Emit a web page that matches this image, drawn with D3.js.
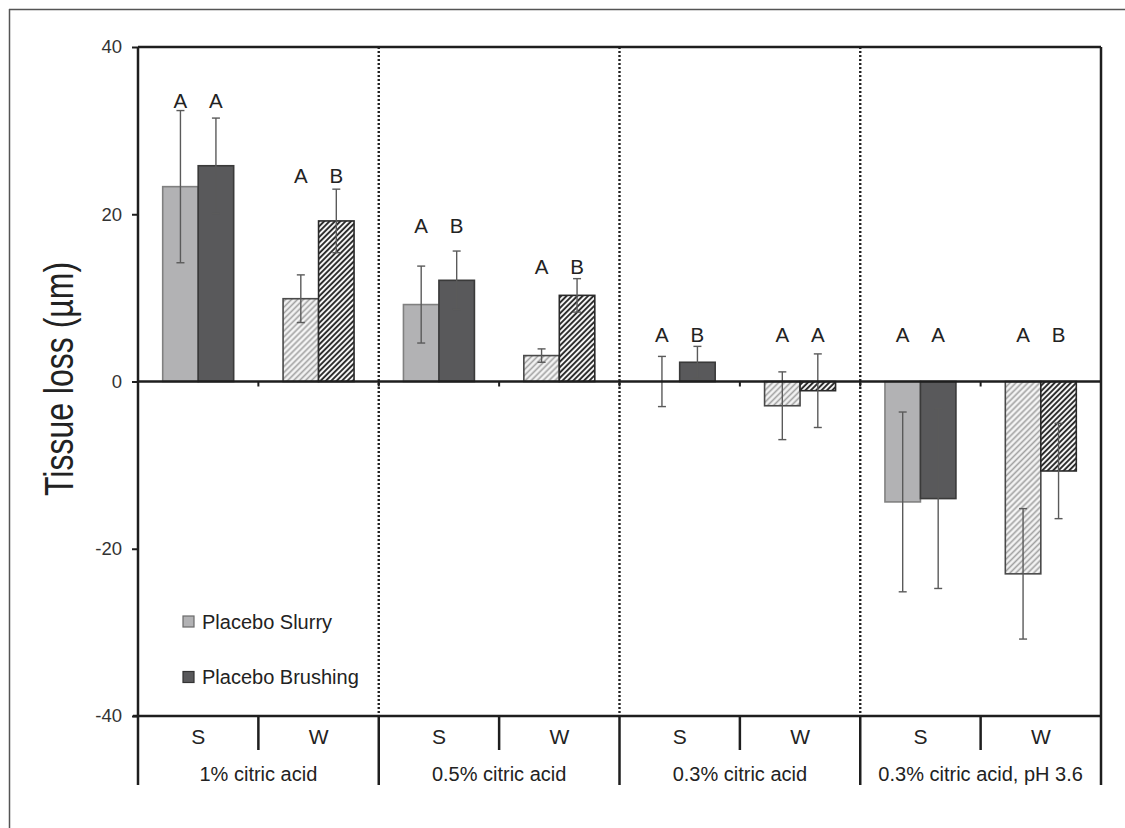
<!DOCTYPE html>
<html>
<head>
<meta charset="utf-8">
<script src="https://cdn.jsdelivr.net/npm/d3@7"></script>
<style>
  html, body { margin: 0; padding: 0; background: #fff; }
  svg { display: block; font-family: "Liberation Sans", Arial, sans-serif; }
</style>
</head>
<body>
<svg id="chart" width="1125" height="828"></svg>
<script>
// ---- data ----
const groups = ["1% citric acid", "0.5% citric acid", "0.3% citric acid", "0.3% citric acid, pH 3.6"];
const subgroups = ["S", "W"];
const series = ["Placebo Slurry", "Placebo Brushing"];
// order: g1 S, g1 W, g2 S, g2 W, g3 S, g3 W, g4 S, g4 W
const slurryMean = [23.3, 9.9, 9.2, 3.1, 0.0, -2.9, -14.4, -23.0];
const slurryErr  = [9.1, 2.85, 4.6, 0.8, 3.0, 4.05, 10.75, 7.8];
const brushMean  = [25.8, 19.2, 12.1, 10.3, 2.3, -1.1, -14.0, -10.7];
const brushErr   = [5.7, 3.8, 3.5, 2.0, 1.9, 4.4, 10.75, 5.7];
const slurryLetters = ["A", "A", "A", "A", "A", "A", "A", "A"];
const brushLetters  = ["A", "B", "B", "B", "B", "A", "A", "B"];
const letterLevel = [33.6, 24.6, 18.6, 13.7, 5.6, 5.6, 5.6, 5.6];
const yTicks = [-40, -20, 0, 20, 40];
const yTitle = "Tissue loss (µm)";

// ---- layout ----
const svg = d3.select("#chart");
const L = 138, R = 1101, T = 47, B = 716;
const cells = [];
groups.forEach((g, gi) => subgroups.forEach((s, si) => cells.push({ key: g + "|" + s, g, s, gi, si })));
const idx = cells.map((c, i) => i);

const x = d3.scaleBand().domain(cells.map(c => c.key)).range([L, R]);
const xg = d3.scaleBand().domain(groups).range([L, R]);
const x1 = d3.scaleBand().domain(series).range([0, x.bandwidth()]).paddingInner(0).paddingOuter(0.696);
const y = d3.scaleLinear().domain([-40, 40]).range([B, T]);

// patterns
const defs = svg.append("defs");
function hatch(id, bg, stroke, period, sw) {
  const p = defs.append("pattern").attr("id", id).attr("patternUnits", "userSpaceOnUse")
    .attr("width", period).attr("height", period).attr("patternTransform", "rotate(45)");
  p.append("rect").attr("width", period).attr("height", period).attr("fill", bg);
  p.append("line").attr("x1", period / 2).attr("x2", period / 2).attr("y1", 0).attr("y2", period)
    .attr("stroke", stroke).attr("stroke-width", sw);
}
hatch("hatchLight", "#f4f4f4", "#a2a2a2", 4.2, 1.6);
hatch("hatchDark", "#ffffff", "#2e2e2e", 3.8, 2.0);

// outer frame (top & left)
svg.append("line").attr("x1", 9).attr("x2", 1125).attr("y1", 9.5).attr("y2", 9.5).attr("stroke", "#555").attr("stroke-width", 1.5);
svg.append("line").attr("x1", 9.5).attr("x2", 9.5).attr("y1", 9).attr("y2", 828).attr("stroke", "#555").attr("stroke-width", 1.5);

// dotted group separators inside plot
svg.append("g").selectAll("line").data(groups.slice(1)).join("line")
  .attr("x1", d => xg(d)).attr("x2", d => xg(d)).attr("y1", T).attr("y2", B)
  .attr("stroke", "#222").attr("stroke-width", 2.4).attr("stroke-dasharray", "2,2");

// bars
const bars = [];
idx.forEach(i => {
  const c = cells[i];
  bars.push({ i, c, ser: series[0], v: slurryMean[i], e: slurryErr[i], letter: slurryLetters[i] });
  bars.push({ i, c, ser: series[1], v: brushMean[i], e: brushErr[i], letter: brushLetters[i] });
});
function fillOf(d) {
  if (d.c.s === "S") return d.ser === series[0] ? "#b2b2b4" : "#59595b";
  return d.ser === series[0] ? "url(#hatchLight)" : "url(#hatchDark)";
}
function strokeOf(d) {
  if (d.c.s === "S") return d.ser === series[0] ? "#808080" : "#3a3a3a";
  return d.ser === series[0] ? "#4a4a4a" : "#2a2a2a";
}
const gb = svg.append("g");
gb.selectAll("rect").data(bars.filter(d => d.v !== 0)).join("rect")
  .attr("x", d => x(d.c.key) + x1(d.ser))
  .attr("width", x1.bandwidth())
  .attr("y", d => y(Math.max(0, d.v)))
  .attr("height", d => Math.abs(y(d.v) - y(0)))
  .attr("fill", fillOf).attr("stroke", strokeOf).attr("stroke-width", 1.6);

// error bars
const ge = svg.append("g").attr("stroke", "#5a5a5a").attr("stroke-width", 1.4);
bars.forEach(d => {
  const cx = x(d.c.key) + x1(d.ser) + x1.bandwidth() / 2;
  ge.append("line").attr("x1", cx).attr("x2", cx).attr("y1", y(d.v + d.e)).attr("y2", y(d.v - d.e));
  [d.v + d.e, d.v - d.e].forEach(v => ge.append("line").attr("x1", cx - 4).attr("x2", cx + 4).attr("y1", y(v)).attr("y2", y(v)));
});

// letters
svg.append("g").selectAll("text").data(bars).join("text")
  .attr("x", d => x(d.c.key) + x1(d.ser) + x1.bandwidth() / 2)
  .attr("y", d => y(letterLevel[d.i]) + 7.5)
  .attr("text-anchor", "middle").attr("font-size", 20.5).attr("fill", "#222")
  .text(d => d.letter);

// zero line with small ticks
svg.append("line").attr("x1", L).attr("x2", R).attr("y1", y(0)).attr("y2", y(0)).attr("stroke", "#1e1e1e").attr("stroke-width", 2.5);
const zt = [];
groups.forEach(g => { zt.push(xg(g)); zt.push(xg(g) + xg.bandwidth() / 2); });
zt.push(R);
svg.append("g").selectAll("line").data(zt).join("line")
  .attr("x1", d => d).attr("x2", d => d).attr("y1", y(0)).attr("y2", y(0) + 5)
  .attr("stroke", "#1e1e1e").attr("stroke-width", 2);

// frame of plot
const fr = svg.append("g").attr("stroke", "#1e1e1e").attr("stroke-width", 2.5).attr("fill", "none");
fr.append("line").attr("x1", L).attr("x2", R).attr("y1", T).attr("y2", T);
fr.append("line").attr("x1", R).attr("x2", R).attr("y1", T).attr("y2", 785);
fr.append("line").attr("x1", L - 5).attr("x2", R).attr("y1", B).attr("y2", B);

// y axis
const ya = svg.append("g").attr("transform", `translate(${L},0)`)
  .call(d3.axisLeft(y).tickValues(yTicks).tickSize(6).tickPadding(10).tickFormat(d => String(d)));
ya.select(".domain").remove();
ya.append("line").attr("x1", 0).attr("x2", 0).attr("y1", T).attr("y2", 785).attr("stroke", "#1e1e1e").attr("stroke-width", 2.5);
ya.selectAll(".tick line").attr("stroke", "#1e1e1e").attr("stroke-width", 2);
ya.selectAll(".tick text").attr("font-size", 18.5).attr("fill", "#333").attr("font-family", "Liberation Sans, Arial, sans-serif");

// y title
svg.append("text").attr("transform", "translate(73,379) rotate(-90) scale(0.8,1)")
  .attr("text-anchor", "middle").attr("font-size", 40).attr("fill", "#222").text(yTitle);

// bottom category table
const bt = svg.append("g").attr("stroke", "#1e1e1e").attr("stroke-width", 2.5);
groups.slice(1).forEach(g => bt.append("line").attr("x1", xg(g)).attr("x2", xg(g)).attr("y1", B).attr("y2", 785));
groups.forEach(g => { const m = xg(g) + xg.bandwidth() / 2; bt.append("line").attr("x1", m).attr("x2", m).attr("y1", B).attr("y2", 750); });

const xa = svg.append("g").attr("transform", `translate(0,${B})`)
  .call(d3.axisBottom(x).tickSize(0).tickPadding(13).tickFormat(k => k.split("|")[1]));
xa.select(".domain").remove();
xa.selectAll(".tick text").attr("font-size", 21).attr("fill", "#222").attr("font-family", "Liberation Sans, Arial, sans-serif");

const xga = svg.append("g").attr("transform", `translate(0,${B})`)
  .call(d3.axisBottom(xg).tickSize(0).tickPadding(51));
xga.select(".domain").remove();
xga.selectAll(".tick text").attr("font-size", 20).attr("fill", "#222").attr("font-family", "Liberation Sans, Arial, sans-serif");

// legend
const leg = svg.append("g");
series.forEach((s, i) => {
  const cy = 621.5 + i * 55.5;
  leg.append("rect").attr("x", 183).attr("y", cy - 5.5).attr("width", 11).attr("height", 11)
    .attr("fill", i === 0 ? "#b2b2b4" : "#59595b").attr("stroke", i === 0 ? "#6a6a6a" : "#333").attr("stroke-width", 1.2);
  leg.append("text").attr("x", 202).attr("y", cy + 7).attr("font-size", 20).attr("fill", "#222").text(s);
});
</script>
</body>
</html>
